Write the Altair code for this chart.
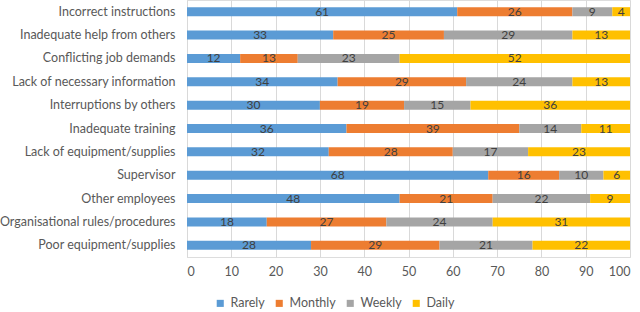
import altair as alt
import pandas as pd

categories = [
    "Incorrect instructions",
    "Inadequate help from others",
    "Conflicting job demands",
    "Lack of necessary information",
    "Interruptions by others",
    "Inadequate training",
    "Lack of equipment/supplies",
    "Supervisor",
    "Other employees",
    "Organisational rules/procedures",
    "Poor equipment/supplies",
]
series = ["Rarely", "Monthly", "Weekly", "Daily"]
rarely = [61, 33, 12, 34, 30, 36, 32, 68, 48, 18, 28]
monthly = [26, 25, 13, 29, 19, 39, 28, 16, 21, 27, 29]
weekly = [9, 29, 23, 24, 15, 14, 17, 10, 22, 24, 21]
daily = [4, 13, 52, 13, 36, 11, 23, 6, 9, 31, 22]
colors = ["#5B9BD5", "#ED7D31", "#A5A5A5", "#FFC000"]

rows = []
for i, cat in enumerate(categories):
    start = 0
    for s, vals in zip(series, [rarely, monthly, weekly, daily]):
        v = vals[i]
        rows.append({"cat": cat, "series": s, "order": series.index(s), "value": v,
                     "start": start, "end": start + v, "mid": start + v / 2})
        start += v
df = pd.DataFrame(rows)

FONT = "Lato"

base = alt.Chart(df)

bars = base.mark_bar(size=9).encode(
    y=alt.Y("cat:N", sort=categories, title=None,
            axis=alt.Axis(labelFontSize=12.5, labelColor="#595959", labelFont=FONT,
                          ticks=False, domain=True, domainColor="#d9d9d9",
                          labelPadding=12, labelLimit=300)),
    x=alt.X("start:Q", scale=alt.Scale(domain=[0, 100], nice=False), title=None,
            axis=alt.Axis(values=list(range(0, 101, 10)), labelFontSize=12.5,
                          labelColor="#595959", labelFont=FONT, ticks=False,
                          domain=False, grid=True, gridColor="#d9d9d9",
                          labelPadding=8)),
    x2="end:Q",
    color=alt.Color("series:N", scale=alt.Scale(domain=series, range=colors),
                    sort=series,
                    legend=alt.Legend(title=None, orient="none", direction="horizontal",
                                      legendX=27, legendY=297, symbolType="square",
                                      symbolSize=50, symbolStrokeWidth=0,
                                      labelFontSize=12.5, labelColor="#595959",
                                      labelFont=FONT, columnPadding=8)),
)

labels = base.mark_text(fontSize=12, color="#404040", font=FONT, baseline="middle").encode(
    y=alt.Y("cat:N", sort=categories),
    x="mid:Q",
    text="value:Q",
)

chart = (bars + labels).properties(
    width=443, height=257,
    autosize=alt.AutoSizeParams(type="none"),
    padding={"left": 187, "top": 0, "right": 10, "bottom": 55},
).configure_view(stroke=None).configure(background="white")

chart.save("out.html", embed_options={"renderer": "svg", "actions": False})
